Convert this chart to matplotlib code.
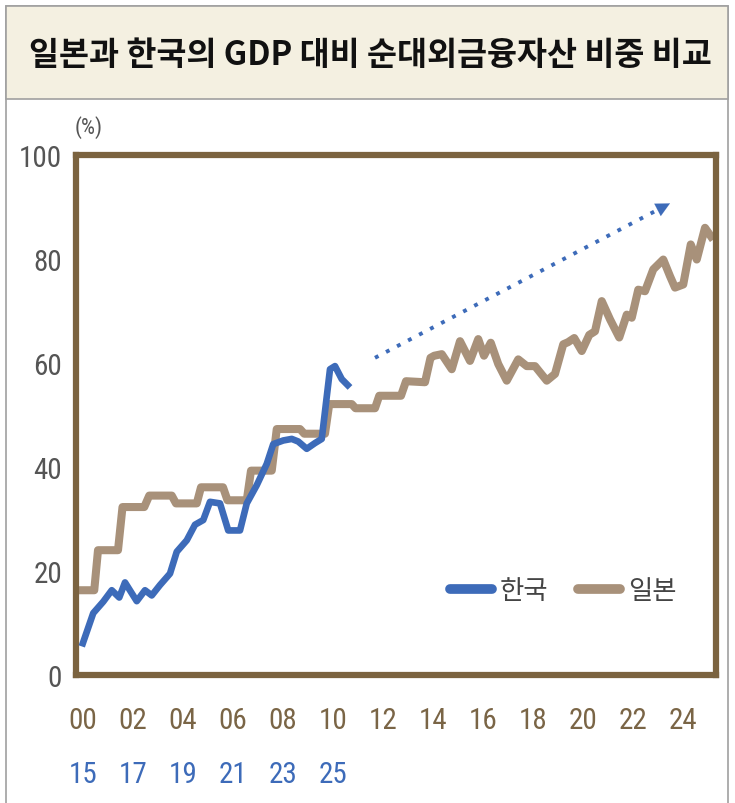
import matplotlib
matplotlib.use("Agg")
import matplotlib.pyplot as plt
from matplotlib import font_manager as fm
from matplotlib.patches import Rectangle
from matplotlib.transforms import blended_transform_factory

plt.rcParams["font.family"] = ["Noto Sans CJK KR", "DejaVu Sans"]

# ---- data -------------------------------------------------------------
title = "일본과 한국의 GDP 대비 순대외금융자산 비중 비교"
series_names = ["한국", "일본"]
unit_label = "(%)"

# Years elapsed since the start of each series (Japan: 2000, Korea: 2015)
japan_t = [-0.2, 0.45, 0.6, 1.4, 1.58, 2.45, 2.65, 3.55, 3.72, 4.55, 4.72, 5.6,
           5.78, 6.55, 6.72, 7.55, 7.75, 8.68, 8.85, 9.68, 9.85, 10.75, 10.9,
           11.68, 11.85, 12.72, 12.92, 13.68, 13.9, 14.05, 14.35, 14.75, 15.08,
           15.48, 15.81, 16.04, 16.31, 16.61, 16.95, 17.41, 17.75, 18.08, 18.55,
           18.88, 19.21, 19.4, 19.65, 19.95, 20.25, 20.48, 20.75, 21.08, 21.45,
           21.75, 21.95, 22.21, 22.48, 22.81, 23.21, 23.48, 23.68, 24.01, 24.31,
           24.55, 24.88, 25.21]
japan_v = [16.3, 16.3, 24.0, 24.0, 32.3, 32.3, 34.5, 34.5, 33.0, 33.0, 36.1, 36.1,
           33.6, 33.6, 39.3, 39.3, 47.3, 47.3, 46.4, 46.4, 52.1, 52.1, 51.3,
           51.3, 53.7, 53.7, 56.5, 56.3, 61.0, 61.4, 61.7, 58.8, 64.2,
           60.4, 64.6, 61.4, 63.9, 59.8, 56.6, 60.7, 59.4, 59.4, 56.6,
           57.9, 63.6, 64.0, 64.8, 62.3, 65.4, 66.1, 71.9, 68.4, 64.9,
           69.3, 68.7, 74.1, 73.8, 78.0, 79.9, 76.7, 74.5, 75.1, 82.8,
           79.9, 86.0, 83.7]

korea_t = [-0.05, 0.41, 0.81, 1.15, 1.45, 1.68, 2.15, 2.48, 2.75, 3.08, 3.48,
           3.75, 4.15, 4.48, 4.81, 5.08, 5.48, 5.81, 6.28, 6.55, 6.95, 7.35,
           7.61, 8.01, 8.35, 8.61, 8.95, 9.28, 9.55, 9.88, 10.08, 10.35, 10.68]
korea_v = [5.5, 11.9, 14.1, 16.3, 14.9, 17.8, 14.2, 16.3, 15.3, 17.3, 19.5,
           23.7, 25.9, 28.9, 29.8, 33.3, 33.0, 27.8, 27.8, 33.0, 36.5, 40.6,
           44.4, 45.1, 45.4, 44.9, 43.5, 44.6, 45.4, 58.8, 59.4, 56.9, 55.3]

japan_tick_pos = [0, 2, 4, 6, 8, 10, 12, 14, 16, 18, 20, 22, 24]
japan_tick_labels = ["00", "02", "04", "06", "08", "10", "12", "14", "16",
                     "18", "20", "22", "24"]
korea_tick_pos = [0, 2, 4, 6, 8, 10]
korea_tick_labels = ["15", "17", "19", "21", "23", "25"]
y_ticks = [0, 20, 40, 60, 80, 100]

# trend arrow (start and tip, in years / %)
trend_start = (11.68, 61.0)
trend_end = (23.48, 90.7)

# ---- styles -----------------------------------------------------------
KOREA_C = "#3d6bb9"
JAPAN_C = "#a8917a"
FRAME_C = "#7b6340"
XTICK_C = "#7a6546"
YTICK_C = "#555555"


def narrow_number_font(size):
    """Pick a narrow sans face for the numerals if one is installed."""
    wanted = ["Liberation Sans Narrow", "Roboto Condensed", "Open Sans Condensed",
              "Noto Sans Condensed", "DejaVu Sans Condensed", "Arial Narrow"]
    regular = (400, "normal", "regular", "book")
    fonts = fm.fontManager.ttflist
    for name in wanted:
        for f in fonts:
            if f.name == name and f.style == "normal" and f.weight in regular:
                return fm.FontProperties(fname=f.fname, size=size)
    for f in fonts:
        if (f.stretch in ("condensed", "semi-condensed", "extra-condensed")
                and f.style == "normal" and f.weight in regular
                and "CJK" not in f.name and "Mono" not in f.name
                and "Serif" not in f.name):
            return fm.FontProperties(fname=f.fname, size=size)
    return fm.FontProperties(family="Liberation Sans", size=size)


W, H = 735, 804
fig = plt.figure(figsize=(W / 100, H / 100), dpi=100)

# outer panel border and title band
fig.add_artist(Rectangle((6 / W, -0.02), 722 / W, (H - 7) / H + 0.02,
                         transform=fig.transFigure, fill=False,
                         ec="#a0a0a0", lw=1.2))
fig.add_artist(Rectangle((6 / W, 1 - 100 / H), 722 / W, 93 / H,
                         transform=fig.transFigure, fc="#f4f0e1",
                         ec="#a0a0a0", lw=1.2))
fig.text(370 / W, 1 - 55 / H, title, ha="center", va="center",
         fontsize=23.5, fontweight="bold", color="#111111")

ax = fig.add_axes([76 / W, 1 - 676 / H, 640 / W, 520 / H])
ax.set_xlim(-0.28, 25.32)
ax.set_ylim(0, 100)

ax.plot(japan_t, japan_v, color=JAPAN_C, lw=5.8, solid_capstyle="butt",
        solid_joinstyle="round", label=series_names[1], zorder=2)
ax.plot(korea_t, korea_v, color=KOREA_C, lw=4.8, solid_capstyle="butt",
        solid_joinstyle="round", label=series_names[0], zorder=3)

# dotted trend arrow
dx = trend_end[0] - trend_start[0]
dy = trend_end[1] - trend_start[1]
stop = (trend_start[0] + dx * 0.955, trend_start[1] + dy * 0.955)
ax.plot([trend_start[0], stop[0]], [trend_start[1], stop[1]],
        color=KOREA_C, lw=2.8, linestyle=(0, (1.0, 2.2)), zorder=4)
ax.annotate("", xy=trend_end, xytext=stop,
            arrowprops=dict(arrowstyle="-|>,head_length=1.0,head_width=0.5",
                            color=KOREA_C, lw=0.1, shrinkA=0, shrinkB=0),
            zorder=4)

for s in ax.spines.values():
    s.set_color(FRAME_C)
    s.set_linewidth(4.5)

num_fp = narrow_number_font(21)
ax.set_yticks(y_ticks)
ax.set_yticklabels([str(v) for v in y_ticks], fontproperties=num_fp,
                   color=YTICK_C)
ax.set_xticks(japan_tick_pos)
ax.set_xticklabels(japan_tick_labels, fontproperties=num_fp, color=XTICK_C)
ax.tick_params(axis="both", length=0)
ax.tick_params(axis="y", pad=10)
ax.tick_params(axis="x", pad=22)

trans = blended_transform_factory(ax.transData, ax.transAxes)
for p, lab in zip(korea_tick_pos, korea_tick_labels):
    ax.text(p, -0.19, lab, transform=trans, ha="center", va="center",
            fontproperties=num_fp, color=KOREA_C, clip_on=False)

ax.text(0.02, 1.055, unit_label, transform=ax.transAxes, ha="center",
        va="center", fontproperties=narrow_number_font(16), color=YTICK_C)

handles, labels = ax.get_legend_handles_labels()
order = [1, 0]
leg = ax.legend([handles[i] for i in order], [labels[i] for i in order],
                loc="center right", bbox_to_anchor=(0.975, 0.163),
                ncol=2, frameon=False, fontsize=19, handlelength=1.6,
                handletextpad=0.3, columnspacing=1.1)
for t in leg.get_texts():
    t.set_color("#444444")
for h in leg.get_lines():
    h.set_linewidth(7)
    h.set_solid_capstyle("round")

fig.savefig("out.png", dpi=100)
